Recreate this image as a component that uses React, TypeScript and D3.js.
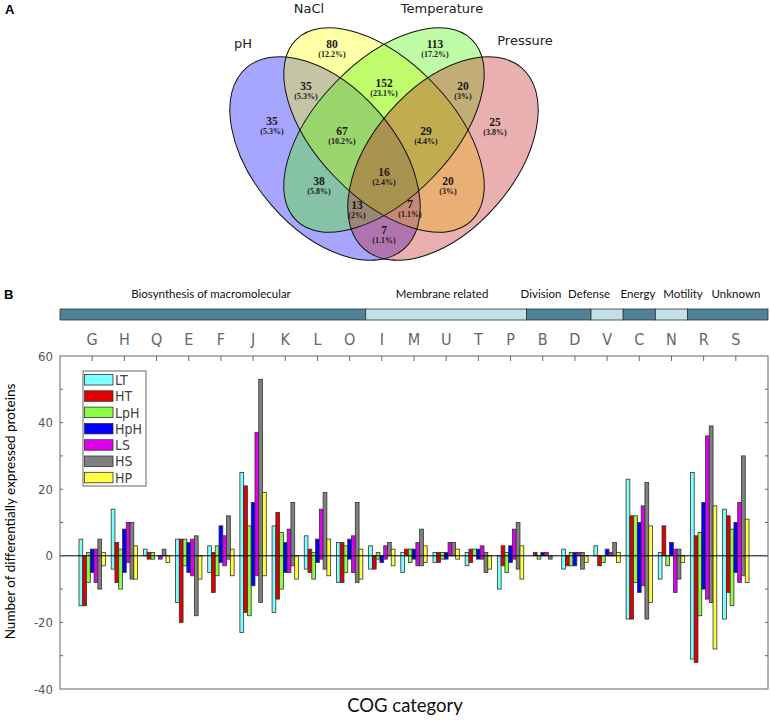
import React from 'react';
import * as d3 from 'd3';

// COG categories (x axis) and the groups shown in the strip above them
const categories = ['G', 'H', 'Q', 'E', 'F', 'J', 'K', 'L', 'O', 'I', 'M', 'U', 'T', 'P', 'B', 'D', 'V', 'C', 'N', 'R', 'S'];
const groupNames = ['Biosynthesis of macromolecular', 'Membrane related', 'Division', 'Defense', 'Energy', 'Motility', 'Unknown'];
const groupFirst = ['G', 'I', 'B', 'V', 'C', 'N', 'R'];
const groupLast = ['O', 'P', 'D', 'V', 'C', 'N', 'S'];

const seriesNames = ['LT', 'HT', 'LpH', 'HpH', 'LS', 'HS', 'HP'];

// up-regulated counts (positive part of each bar)
const upLT = [5, 14, 2, 5, 3, 25, 9, 6, 4, 3, 1, 1, 1, 0, 0, 2, 3, 23, 1, 25, 14];
const upHT = [0, 4, 1, 5, 1, 21, 13, 2, 4, 0, 2, 1, 2, 3, 1, 0, 0, 12, 9, 6, 12];
const upLpH = [1, 2, 1, 5, 3, 9, 7, 1, 3, 1, 2, 1, 2, 1, 0, 1, 0, 12, 0, 7, 8];
const upHpH = [2, 8, 0, 4, 9, 16, 4, 5, 5, 0, 2, 1, 2, 3, 1, 1, 2, 10, 4, 16, 10];
const upLS = [2, 10, 0, 5, 6, 37, 8, 14, 6, 3, 4, 4, 3, 8, 1, 1, 1, 15, 2, 36, 16];
const upHS = [5, 10, 2, 6, 12, 53, 16, 19, 16, 4, 8, 4, 1, 10, 0, 1, 4, 22, 2, 39, 30];
const upHP = [1, 3, 0, 0, 2, 19, 0, 5, 2, 2, 3, 2, 0, 3, 0, 0, 1, 9, 0, 15, 11];

// down-regulated counts (negative part of each bar)
const downLT = [-15, -4, 0, -14, -5, -23, -17, -4, -8, -4, -5, -2, -3, -10, 0, -4, 0, -19, -7, -31, -19];
const downHT = [-15, -8, -1, -20, -11, -17, -13, -5, -8, -4, 0, -2, -2, -3, 0, -3, -3, -19, 0, -32, -11];
const downLpH = [-8, -10, -1, -3, -6, -18, -10, -7, -5, -1, -2, -1, 0, -5, -1, -3, -2, -8, -3, -18, -15];
const downHpH = [-5, -5, 0, -5, -2, -9, -5, -2, -1, -2, -1, -1, -1, -2, 0, -3, 0, -11, 0, -10, -5];
const downLS = [-8, -2, -1, -6, -3, -6, -5, -1, -5, -1, -3, 0, -1, -1, 0, 0, 0, -9, -11, -13, -8];
const downHS = [-10, -7, 0, -18, -1, -14, -3, -4, -8, 0, -3, 0, -5, -4, -1, -4, 0, -19, -7, -14, -6];
const downHP = [-3, -7, -2, -7, -6, -6, -7, -6, -7, -3, -2, -1, -4, -7, 0, -2, -2, -14, -2, -28, -8];

const upValues = [upLT, upHT, upLpH, upHpH, upLS, upHS, upHP];
const downValues = [downLT, downHT, downLpH, downHpH, downLS, downHS, downHP];

const yTickLabels = [-40, -20, 0, 20, 40, 60];

// Venn diagram
const vennSets = ['pH', 'NaCl', 'Temperature', 'Pressure'];
const vennRegions = ['pH', 'NaCl', 'Temperature', 'Pressure', 'pH&NaCl', 'NaCl&Temperature', 'Temperature&Pressure',
  'pH&NaCl&Temperature', 'NaCl&Temperature&Pressure', 'all', 'pH&Temperature', 'NaCl&Pressure',
  'pH&Temperature&Pressure', 'pH&NaCl&Pressure', 'pH&Pressure'];
const vennCounts = [35, 80, 113, 25, 35, 152, 20, 67, 29, 16, 38, 20, 13, 7, 7];
const vennPercents = ['5.3%', '12.2%', '17.2%', '3.8%', '5.3%', '23.1%', '3%', '10.2%', '4.4%', '2.4%', '5.8%', '3%', '2%', '1.1%', '1.1%'];

const colors = ['#80ffff', '#e00000', '#88ff44', '#0000ff', '#e000f0', '#808080', '#ffff40'];
const vennColors = ['#0000ff', '#ffff00', '#4bf600', '#c31a1a'];

const narrow = "'Liberation Sans Narrow', 'DejaVu Sans Condensed', 'Liberation Sans', sans-serif";
const calibri = "Lato, 'Open Sans', sans-serif";

// ellipse geometry, label spots (layout only)
const ellipses = [
  { cx: 325, cy: 158.5, rx: 120, ry: 71, rot: 49 },
  { cx: 384, cy: 130, rx: 126, ry: 68, rot: 46 },
  { cx: 384, cy: 130, rx: 126, ry: 68, rot: -46 },
  { cx: 443, cy: 158.5, rx: 120, ry: 71, rot: -49 },
];
const setLabelPos = [[243, 48], [309, 13], [442, 13], [525, 45]];
const regionPos = [[272, 121], [332, 44], [435, 44], [495, 122], [306, 86], [384, 83], [463, 86],
  [342, 131], [426, 131], [384, 172], [319, 181], [448, 181], [357, 205], [410, 204], [384, 230]];
const groupLabelX = [211, 442, 541, 589, 638, 683, 736];

export default function App() {
  const left = 60, right = 768, top = 356, bottom = 689;
  const x = d3.scalePoint<string>().domain(categories).range([left, right]).padding(1);
  const step = x.step();
  const y = d3.scaleLinear().domain([-40, 60]).range([bottom, top]);
  const sub = d3.scaleBand<string>().domain(seriesNames).range([-13.2, 13.2]);
  const minor = d3.range(-30, 60, 10);

  return (
    <svg width={770} height={720} style={{ position: 'absolute', left: 0, top: 0, background: '#fff' }}>
      {/* Panel A */}
      <text x={5} y={14} fontFamily="'Liberation Sans', Arial" fontWeight="bold" fontSize={13}>A</text>
      <g>
        {ellipses.map((e, i) => (
          <ellipse key={'f' + i} cx={e.cx} cy={e.cy} rx={e.rx} ry={e.ry}
            transform={`rotate(${e.rot} ${e.cx} ${e.cy})`} fill={vennColors[i]} fillOpacity={0.35} />
        ))}
        {ellipses.map((e, i) => (
          <ellipse key={'s' + i} cx={e.cx} cy={e.cy} rx={e.rx} ry={e.ry}
            transform={`rotate(${e.rot} ${e.cx} ${e.cy})`} fill="none" stroke="#111" strokeWidth={1} />
        ))}
        {vennSets.map((s, i) => (
          <text key={s} x={setLabelPos[i][0]} y={setLabelPos[i][1]} textAnchor="middle"
            fontFamily="'DejaVu Sans', sans-serif" fontSize={13} fill="#222">{s}</text>
        ))}
        {vennRegions.map((r, i) => (
          <g key={r} fontFamily="'Liberation Serif', 'Times New Roman', serif" fontWeight="bold" fill="#1a1a1a" textAnchor="middle">
            <text x={regionPos[i][0]} y={regionPos[i][1] + 4} fontSize={11.5}>{vennCounts[i]}</text>
            <text x={regionPos[i][0]} y={regionPos[i][1] + 12.5} fontSize={8}>({vennPercents[i]})</text>
          </g>
        ))}
      </g>

      {/* Panel B */}
      <text x={4} y={299} fontFamily="'Liberation Sans', Arial" fontWeight="bold" fontSize={13}>B</text>
      {groupNames.map((g, i) => {
        const x0 = i === 0 ? left : (x(groupFirst[i]) as number) - step / 2;
        const x1 = i === groupNames.length - 1 ? right : (x(groupLast[i]) as number) + step / 2;
        return (
          <g key={g}>
            <rect x={x0} y={309} width={x1 - x0} height={11} fill={i % 2 === 0 ? '#4f8198' : '#c3dfea'}
              stroke="#333" strokeWidth={0.8} />
            <text x={groupLabelX[i]} y={298} textAnchor="middle" fontFamily={calibri} fontSize={11.5} fill="#111">{g}</text>
          </g>
        );
      })}
      {categories.map((c) => (
        <text key={c} x={x(c)} y={345} textAnchor="middle" fontFamily={narrow} fontSize={16} fill="#666">{c}</text>
      ))}

      {/* bars */}
      {seriesNames.map((s, si) => (
        <g key={s} fill={colors[si]} stroke="#333" strokeWidth={0.8}>
          {categories.map((c, ci) => {
            const u = upValues[si][ci], d = downValues[si][ci];
            if (u === 0 && d === 0) return null;
            return (
              <rect key={c} x={(x(c) as number) + (sub(s) as number)} y={y(u)}
                width={sub.bandwidth()} height={y(d) - y(u)} />
            );
          })}
        </g>
      ))}
      <line x1={left} x2={right} y1={y(0)} y2={y(0)} stroke="#000" strokeWidth={1} />

      {/* frame and ticks */}
      <rect x={left} y={top} width={right - left} height={bottom - top} fill="none" stroke="#666" strokeWidth={1} />
      {categories.map((c) => (
        <line key={c} x1={x(c)} x2={x(c)} y1={top} y2={top + 5} stroke="#666" />
      ))}
      {minor.map((v) => (
        <g key={v} stroke="#666">
          <line x1={left} x2={left + 3} y1={y(v)} y2={y(v)} />
          <line x1={right - 3} x2={right} y1={y(v)} y2={y(v)} />
        </g>
      ))}
      {yTickLabels.map((v) => (
        <text key={v} x={left - 7} y={y(v)} dy="0.35em" textAnchor="end" fontFamily={narrow} fontSize={13} fill="#555">{v}</text>
      ))}
      <text transform={`translate(15, ${(top + bottom) / 2 - 11}) rotate(-90)`} textAnchor="middle"
        fontFamily={calibri} fontSize={13.5} fill="#000">Number of differentially expressed proteins</text>
      <text x={405} y={712} textAnchor="middle" fontFamily={calibri} fontSize={18.5} fill="#111">COG category</text>

      {/* legend */}
      <rect x={83} y={371} width={63} height={115} fill="#fff" stroke="#666" strokeWidth={1} />
      {seriesNames.map((s, i) => (
        <g key={s}>
          <rect x={84.5} y={374.5 + i * 16.3} width={28.5} height={10.5} fill={colors[i]} stroke="#333" strokeWidth={0.8} />
          <text x={115} y={380 + i * 16.3} dy="0.35em" fontFamily={narrow} fontSize={14} fill="#444">{s}</text>
        </g>
      ))}
    </svg>
  );
}
